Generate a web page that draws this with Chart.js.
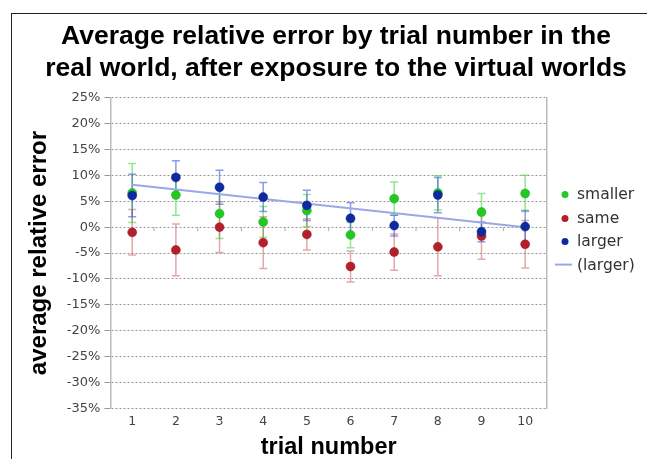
<!DOCTYPE html>
<html lang="en">
<head>
  <meta charset="UTF-8">
  <title>Average relative error by trial number</title>
  <style>
    body {
      margin: 0;
      background-color: white;
    }
    .frame {
      position: absolute;
      left: 11px;
      top: 13px;
      width: 635px;
      height: 445px;
      border-left: 1.5px solid #222;
      border-top: 1.5px solid #222;
    }
  </style>
  <script src="https://cdn.jsdelivr.net/npm/chart.js"></script>
</head>
<body>
  <div class="frame">
    <canvas id="errorChart" width="635" height="445"></canvas>
  </div>

  <script>
    // values, in percent
    const trials = ['1', '2', '3', '4', '5', '6', '7', '8', '9', '10'];
    const smaller = [6.6, 6.2, 2.6, 1.0, 3.2, -1.5, 5.5, 6.6, 2.9, 6.5];
    const smallerErr = [5.7, 3.9, 4.8, 3.0, 3.1, 2.5, 3.2, 3.3, 3.6, 3.5];
    const same = [-1.0, -4.4, 0.0, -3.0, -1.4, -7.6, -4.8, -3.8, -1.7, -3.3];
    const sameErr = [4.4, 5.0, 4.9, 5.0, 3.0, 3.0, 3.5, 5.6, 4.5, 4.6];
    const larger = [6.1, 9.6, 7.7, 5.8, 4.2, 1.7, 0.3, 6.2, -0.9, 0.1];
    const largerErr = [4.1, 3.2, 3.3, 2.8, 2.9, 3.0, 2.0, 3.4, 1.9, 3.1];
    const largerTrend = [8.2, null, null, null, null, null, null, null, null, 0.0];

    const font = "'DejaVu Sans', sans-serif";
    const boldFont = "'Liberation Sans', Arial, sans-serif";

    // error bars, zero-line ticks and the legend
    const extras = {
      id: 'extras',
      beforeDatasetsDraw(chart) {
        const { ctx, scales: { x, y } } = chart;
        ctx.save();

        // small ticks on the zero line between trials
        const y0 = y.getPixelForValue(0);
        ctx.strokeStyle = '#aaa';
        ctx.lineWidth = 1;
        for (let i = 0; i < trials.length - 1; i++) {
          const px = (x.getPixelForValue(i) + x.getPixelForValue(i + 1)) / 2;
          ctx.beginPath();
          ctx.moveTo(px, y0);
          ctx.lineTo(px, y0 + 4);
          ctx.stroke();
        }

        chart.data.datasets.forEach((ds) => {
          if (!ds.errors) return;
          ctx.strokeStyle = ds.errorColor;
          ctx.lineWidth = 1.5;
          ds.data.forEach((v, i) => {
            const px = x.getPixelForValue(i);
            const top = y.getPixelForValue(v + ds.errors[i]);
            const bot = y.getPixelForValue(v - ds.errors[i]);
            ctx.beginPath();
            ctx.moveTo(px, top);
            ctx.lineTo(px, bot);
            ctx.moveTo(px - 4, top);
            ctx.lineTo(px + 4, top);
            ctx.moveTo(px - 4, bot);
            ctx.lineTo(px + 4, bot);
            ctx.stroke();
          });
        });
        ctx.restore();
      },
      afterDraw(chart) {
        const { ctx, chartArea } = chart;
        const offsets = [97, 121, 144, 168];
        ctx.save();
        ctx.font = '15.5px ' + font;
        ctx.textBaseline = 'middle';
        ctx.textAlign = 'left';
        chart.data.datasets.forEach((ds, i) => {
          const ly = chartArea.top + offsets[i];
          const lx = chartArea.right + 18;
          if (ds.showLine === false) {
            ctx.fillStyle = ds.backgroundColor;
            ctx.beginPath();
            ctx.arc(lx, ly, 3.5, 0, Math.PI * 2);
            ctx.fill();
          } else {
            ctx.strokeStyle = ds.borderColor;
            ctx.lineWidth = 2;
            ctx.beginPath();
            ctx.moveTo(lx - 10, ly - 1);
            ctx.lineTo(lx + 7, ly - 1);
            ctx.stroke();
          }
          ctx.fillStyle = '#333';
          ctx.fillText(ds.label, lx + 12, ly);
        });
        ctx.restore();
      }
    };

    const ctx = document.getElementById('errorChart').getContext('2d');
    const errorChart = new Chart(ctx, {
      type: 'line',
      data: {
        labels: trials,
        datasets: [
          {
            label: 'smaller',
            data: smaller,
            errors: smallerErr,
            errorColor: 'rgba(70, 215, 70, 0.6)',
            showLine: false,
            backgroundColor: '#22c922',
            borderColor: '#1aa81a',
            pointRadius: 4.5,
            pointBorderWidth: 0.5,
            order: 3
          },
          {
            label: 'same',
            data: same,
            errors: sameErr,
            errorColor: 'rgba(200, 80, 90, 0.5)',
            showLine: false,
            backgroundColor: '#b3202b',
            borderColor: '#951a22',
            pointRadius: 4.5,
            pointBorderWidth: 0.5,
            order: 2
          },
          {
            label: 'larger',
            data: larger,
            errors: largerErr,
            errorColor: 'rgba(60, 90, 215, 0.6)',
            showLine: false,
            backgroundColor: '#0d2aa0',
            borderColor: '#0a2080',
            pointRadius: 4.5,
            pointBorderWidth: 0.5,
            order: 1
          },
          {
            label: '(larger)',
            data: largerTrend,
            borderColor: '#9aa9e6',
            borderWidth: 2,
            pointRadius: 0,
            spanGaps: true,
            order: 4
          }
        ]
      },
      options: {
        responsive: false,
        animation: false,
        layout: {
          padding: { left: 13, right: 0, top: 0, bottom: 0 }
        },
        scales: {
          x: {
            offset: true,
            grid: { display: false, drawTicks: false },
            border: { display: false },
            ticks: { color: '#444', font: { family: font, size: 12.5 }, padding: 6 },
            title: {
              display: true,
              text: 'trial number',
              color: '#000',
              font: { family: boldFont, size: 23.5, weight: 'bold', lineHeight: 1.0 },
              padding: { top: 0, bottom: 0 }
            }
          },
          y: {
            min: -35,
            max: 25,
            ticks: {
              stepSize: 5,
              color: '#444',
              font: { family: font, size: 13 },
              padding: 4,
              callback: (v) => v + '%'
            },
            grid: { color: '#999', lineWidth: 1, tickLength: 6 },
            border: { display: true, color: '#bbb', width: 1.5, dash: [2, 2] },
            title: {
              display: true,
              text: 'average relative error',
              color: '#000',
              font: { family: boldFont, size: 24, weight: 'bold', lineHeight: 1.2 },
              padding: { top: 0, bottom: 9 }
            }
          },
          // right-hand edge of the plot; its width leaves room for the legend
          yRight: {
            position: 'right',
            min: -35,
            max: 25,
            ticks: { display: false },
            grid: { display: false, drawTicks: false },
            border: { display: true, color: '#bbb', width: 1.5 },
            afterFit(scale) {
              scale.width = 100;
            }
          }
        },
        plugins: {
          legend: { display: false },
          tooltip: { enabled: false },
          title: {
            display: true,
            text: ['Average relative error by trial number in the', 'real world, after exposure to the virtual worlds'],
            color: '#000',
            font: { family: boldFont, size: 26.5, weight: 'bold', lineHeight: 1.2 },
            padding: { top: 7, bottom: 13 }
          }
        }
      },
      plugins: [extras]
    });
  </script>
</body>
</html>
